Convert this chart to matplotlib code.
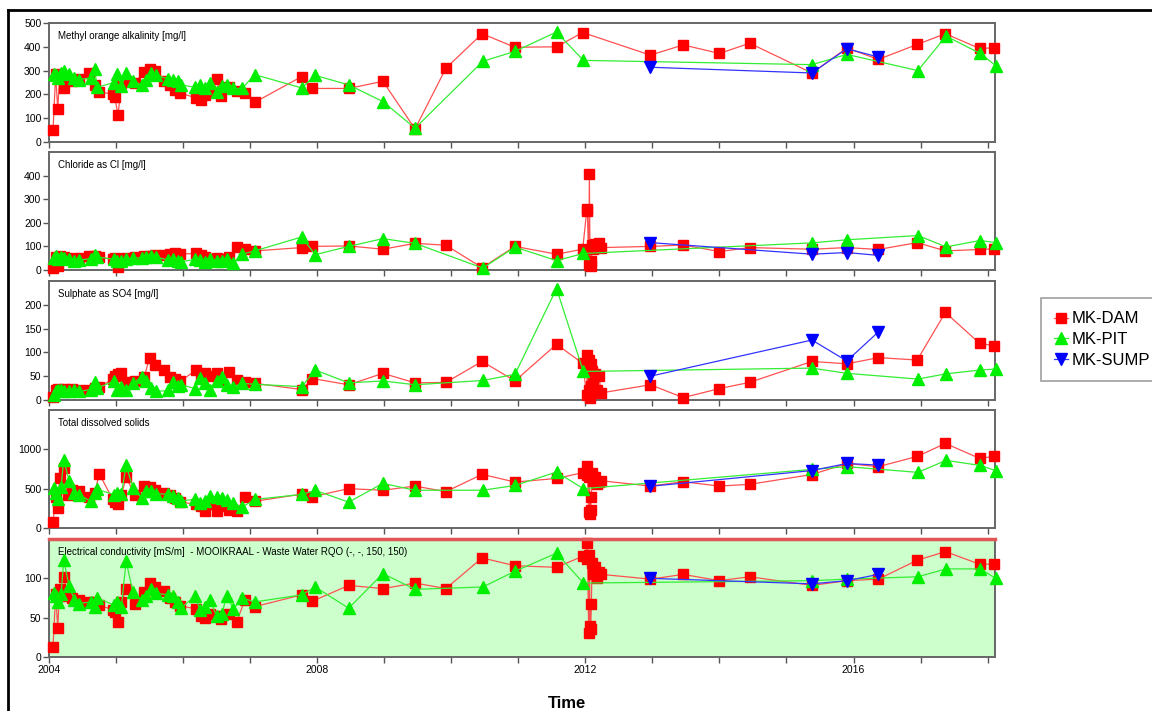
import numpy as np
import matplotlib.pyplot as plt
from matplotlib.lines import Line2D

plt.rcParams['font.family'] = ['Liberation Sans', 'DejaVu Sans']

# --- sampling dates (decimal years) ---
dam_dense_t = [2004.06, 2004.10, 2004.13, 2004.16, 2004.22, 2004.28, 2004.35, 2004.45, 2004.60, 2004.68,
               2004.75, 2004.95, 2004.98, 2005.03, 2005.08, 2005.15, 2005.28, 2005.42, 2005.50, 2005.58,
               2005.72, 2005.80, 2005.88, 2005.96, 2006.20, 2006.26, 2006.33, 2006.40, 2006.50, 2006.56,
               2006.68, 2006.80, 2006.92, 2007.07]
pit_dense_t = [2004.07, 2004.10, 2004.14, 2004.18, 2004.22, 2004.30, 2004.38, 2004.45, 2004.62, 2004.68,
               2004.72, 2004.97, 2005.02, 2005.08, 2005.15, 2005.25, 2005.38, 2005.45, 2005.52, 2005.60,
               2005.78, 2005.85, 2005.92, 2005.97, 2006.18, 2006.25, 2006.32, 2006.40, 2006.50, 2006.58,
               2006.65, 2006.75, 2006.88, 2007.07]
dam_mid_t = [2007.77, 2007.93, 2008.47, 2008.98, 2009.46, 2009.92, 2010.46, 2010.95, 2011.57, 2011.96]
pit_mid_t = [2007.77, 2007.97, 2008.47, 2008.98, 2009.46, 2010.47, 2010.95, 2011.57, 2011.97]
cluster_t = [2012.02, 2012.03, 2012.05, 2012.06, 2012.07, 2012.08, 2012.09, 2012.10, 2012.12, 2012.14,
             2012.17, 2012.20, 2012.24]
dam_late_t = [2012.97, 2013.46, 2014.00, 2014.45, 2015.38, 2015.90, 2016.37, 2016.95, 2017.37, 2017.88, 2018.10]
pit_late_t = [2015.38, 2015.90, 2016.96, 2017.38, 2017.89, 2018.12]
sump_t = [2012.97, 2015.38, 2015.90, 2016.37]

# --- Methyl orange alkalinity ---
alk_dam = [52, 285, 137, 280, 225, 262, 258, 265, 292, 240, 212, 200, 190, 113, 250, 255, 250, 295, 305, 298,
           258, 240, 220, 205, 185, 178, 198, 215, 265, 192, 230, 215, 205, 167,
           275, 225, 225, 255, 55, 310, 455, 398, 400, 460,
           365, 408, 372, 415, 290, 395, 347, 410, 455, 393, 396]
alk_pit = [285, 280, 270, 290, 300, 285, 270, 262, 270, 305, 230, 250, 285, 235, 290, 255, 240, 260, 290, 280,
           265, 260, 255, 240, 230, 240, 225, 250, 212, 235, 240, 225, 225, 283,
           227, 280, 240, 170, 58, 339, 381, 462, 343,
           325, 368, 300, 445, 372, 321]
alk_sump = [314, 290, 392, 357]

# --- Chloride ---
cl_dam = [10, 55, 18, 60, 55, 50, 48, 50, 58, 60, 55, 45, 50, 12, 48, 50, 55, 58, 60, 62,
          65, 68, 70, 68, 70, 62, 55, 45, 52, 48, 55, 97, 88, 81,
          95, 100, 102, 88, 113, 105, 10, 100, 67, 88,
          250, 258, 20, 405, 30, 15, 40, 105, 90, 110, 100, 115, 95,
          100, 106, 78, 95, 88, 95, 87, 116, 81, 87, 90]
cl_pit = [50, 60, 45, 55, 50, 45, 40, 42, 48, 62, 55, 45, 40, 38, 45, 50, 52, 55, 58, 55,
          42, 48, 40, 35, 45, 42, 35, 45, 40, 38, 45, 28, 67, 81,
          140, 65, 100, 133, 113, 8, 97, 40, 70,
          115, 128, 146, 98, 125, 116]
cl_sump = [116, 67, 74, 62]

# --- Sulphate ---
so4_dam = [7, 20, 24, 22, 24, 22, 23, 20, 22, 25, 27, 44, 50, 55, 57, 38, 40, 49, 88, 74,
           63, 49, 44, 40, 63, 49, 57, 50, 57, 42, 58, 42, 38, 35,
           22, 45, 32, 56, 36, 37, 81, 40, 117, 77,
           10, 95, 20, 85, 5, 75, 30, 60, 40, 55, 20, 50, 15,
           32, 5, 24, 37, 81, 76, 89, 84, 184, 119, 114]
so4_pit = [10, 18, 21, 20, 19, 18, 20, 18, 22, 38, 25, 40, 22, 28, 20, 35, 48, 40, 25, 18,
           20, 37, 30, 32, 24, 47, 35, 21, 39, 49, 32, 28, 35, 33,
           28, 63, 36, 40, 32, 41, 54, 234, 60,
           67, 56, 44, 55, 63, 65]
so4_sump = [50, 126, 82, 143]

# --- Total dissolved solids ---
tds_dam = [79, 390, 248, 640, 765, 420, 480, 470, 400, 440, 690, 363, 330, 300, 420, 645, 420, 530, 515, 480,
           450, 420, 380, 330, 300, 275, 215, 300, 215, 280, 235, 215, 400, 340,
           430, 400, 500, 480, 533, 462, 682, 584, 630, 703,
           680, 790, 200, 650, 180, 230, 400, 700, 600, 650, 560, 580, 600,
           533, 588, 533, 555, 680, 820, 780, 910, 1075, 885, 910]
tds_pit = [510, 450, 365, 520, 870, 600, 450, 425, 340, 450, 490, 425, 445, 430, 800, 510, 385, 475, 470, 435,
           430, 405, 380, 345, 365, 320, 340, 405, 390, 385, 360, 320, 265, 363,
           427, 478, 329, 567, 480, 480, 541, 711, 500,
           745, 780, 707, 860, 795, 730]
tds_sump = [530, 730, 820, 800]

# --- Electrical conductivity ---
ec_dam = [13, 80, 37, 87, 102, 78, 75, 72, 70, 70, 66, 60, 57, 44, 70, 86, 67, 83, 94, 89,
          84, 75, 70, 65, 61, 52, 49, 55, 52, 48, 55, 45, 72, 64,
          79, 71, 91, 87, 94, 87, 126, 116, 114, 128,
          125, 145, 30, 130, 40, 35, 68, 120, 105, 115, 100, 108, 105,
          99, 105, 97, 102, 91, 97, 99, 123, 134, 118, 118]
ec_pit = [81, 78, 70, 80, 123, 90, 73, 68, 70, 64, 75, 66, 70, 64, 122, 83, 72, 77, 86, 81,
          79, 77, 70, 62, 78, 60, 64, 73, 52, 55, 78, 61, 75, 70,
          79, 89, 62, 106, 86, 89, 109, 132, 94,
          97, 99, 102, 112, 112, 100]
ec_sump = [100, 93, 97, 105]

titles = ['Methyl orange alkalinity [mg/l]', 'Chloride as Cl [mg/l]', 'Sulphate as SO4 [mg/l]',
          'Total dissolved solids',
          'Electrical conductivity [mS/m]  - MOOIKRAAL - Waste Water RQO (-, -, 150, 150)']

t_dam_alk = dam_dense_t + dam_mid_t + dam_late_t
t_dam = dam_dense_t + dam_mid_t + cluster_t + dam_late_t
t_pit = pit_dense_t + pit_mid_t + pit_late_t

panels = [
    (alk_dam, t_dam_alk, alk_pit, alk_sump, 500, [0, 100, 200, 300, 400, 500]),
    (cl_dam, t_dam, cl_pit, cl_sump, 500, [0, 100, 200, 300, 400]),
    (so4_dam, t_dam, so4_pit, so4_sump, 250, [0, 50, 100, 150, 200]),
    (tds_dam, t_dam, tds_pit, tds_sump, 1500, [0, 500, 1000]),
    (ec_dam, t_dam, ec_pit, ec_sump, 150, [0, 50, 100]),
]
# panel top / bottom in pixels
boxes = [(23, 142), (152, 270), (281, 400), (410, 528), (539, 657)]

W, H = 1152, 711
fig = plt.figure(figsize=(W / 100, H / 100), dpi=100)

for i, (dam, tdam, pit, sump, ymax, yt) in enumerate(panels):
    top, bot = boxes[i]
    ax = fig.add_axes([49 / W, 1 - bot / H, (995 - 49) / W, (bot - top) / H])
    ax.plot(tdam, dam, color='#ff5050', lw=0.9, marker='s', ms=7, mfc='#ff0000', mec='#ff0000',
            clip_on=False, zorder=3)
    ax.plot(t_pit, pit, color='#33ee33', lw=0.9, marker='^', ms=8, mfc='#00ee00', mec='#00ee00',
            clip_on=False, zorder=4)
    ax.plot(sump_t, sump, color='#3333ff', lw=0.9, marker='v', ms=8, mfc='#0000ff', mec='#0000ff',
            clip_on=False, zorder=5)
    ax.set_xlim(2004.0, 2018.11)
    ax.set_ylim(0, ymax)
    ax.set_yticks(yt)
    ax.set_xticks(np.arange(2004, 2019))
    if i == 4:
        ax.set_xticklabels([str(y) if y % 4 == 0 else '' for y in range(2004, 2019)])
        ax.set_facecolor('#ccffcc')
        ax.axhline(150, color='#e05555', lw=2.5, clip_on=False, zorder=6)
    else:
        ax.set_xticklabels([])
    for s in ax.spines.values():
        s.set_color('#666666')
        s.set_linewidth(1.4)
    ax.tick_params(axis='both', direction='out', length=4, width=1, color='#555555',
                   labelsize=7.5, pad=1.5)
    ax.annotate(titles[i], xy=(0, 1), xycoords='axes fraction', xytext=(9, -8),
                textcoords='offset pixels', va='top', ha='left', fontsize=7)

fig.text(567 / W, 1 - 703 / H, 'Time', ha='center', va='center', fontsize=12, fontweight='bold')

# outer frame (cut off at right and bottom)
fig.add_artist(Line2D([8 / W, 1], [1 - 10 / H, 1 - 10 / H], color='black', lw=2, transform=fig.transFigure))
fig.add_artist(Line2D([8 / W, 8 / W], [0, 1 - 10 / H], color='black', lw=2, transform=fig.transFigure))

handles = [
    Line2D([], [], color='#ff5050', lw=0.9, marker='s', ms=7, mfc='#ff0000', mec='#ff0000'),
    Line2D([], [], color='#33ee33', lw=0.9, marker='^', ms=8, mfc='#00ee00', mec='#00ee00'),
    Line2D([], [], color='#3333ff', lw=0.9, marker='v', ms=8, mfc='#0000ff', mec='#0000ff'),
]
leg = fig.legend(handles, ['MK-DAM', 'MK-PIT', 'MK-SUMP'], loc='upper left',
                 bbox_to_anchor=(1041 / W, 1 - 298 / H), fontsize=12, frameon=True, fancybox=False,
                 edgecolor='#888888', handlelength=0.8, handletextpad=0.25, labelspacing=0.34,
                 borderpad=0.8, borderaxespad=0)
leg.get_frame().set_linewidth(1.2)

fig.savefig('out.png', dpi=100)
